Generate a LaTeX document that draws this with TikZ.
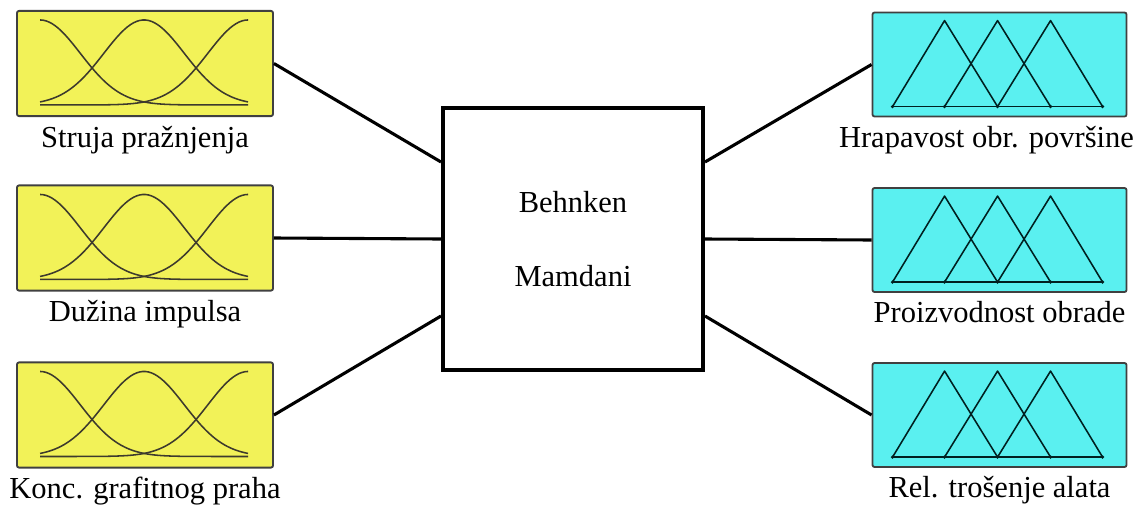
\documentclass[tikz,border=0pt]{standalone}
\usepackage{fontspec}
\setmainfont{Liberation Serif}
\newfontfamily\labelfont{Liberation Serif}
\usetikzlibrary{positioning, calc}
\definecolor{inyellow}{RGB}{242,242,88}
\definecolor{outcyan}{RGB}{90,240,240}
\tikzset{
    box_in/.style={
        rectangle, rounded corners=1.5pt, draw=black!75, line width=1.3pt,
        fill=inyellow, minimum width=6.4cm, minimum height=2.63cm, inner sep=0pt
    },
    box_out/.style={
        rectangle, rounded corners=1.5pt, draw=black!75, line width=1.3pt,
        fill=outcyan, minimum width=6.35cm, minimum height=2.6cm, inner sep=0pt
    },
    box_fis/.style={
        rectangle, draw=black, line width=2.8pt, fill=white,
        minimum width=6.5cm, minimum height=6.55cm,
        align=center, font=\labelfont\fontsize{21.7}{52}\selectfont
    },
    mf_gauss/.style={draw=black!75!olive, line width=1.1pt},
    mf_tri/.style={draw=black!75!teal, line width=1.1pt, line join=round},
    link/.style={draw=black, line width=2.2pt},
    lbl/.style={font=\labelfont\fontsize{21.7}{26}\selectfont, inner sep=0pt, anchor=base},
    declare function={gaussmf(\x,\c)=95-85*exp(-((\x-\c)/57)*((\x-\c)/57));}
}

\begin{document}
\begin{tikzpicture}[x=0.025cm, y=-0.025cm]
    \useasboundingbox (0,0) rectangle (1143,507);

    \node[box_fis] (fis) at (573,239) {Behnken\\Mamdani};
    \coordinate (fis_in1) at ($(fis.west)+(0,-77)$);
    \coordinate (fis_in3) at ($(fis.west)+(0,77)$);
    \coordinate (fis_out1) at ($(fis.east)+(0,-77)$);
    \coordinate (fis_out3) at ($(fis.east)+(0,77)$);

    \foreach \i/\yy/\txt in {1/63.5/Struja pražnjenja, 2/238/Dužina impulsa, 3/415/Konc. grafitnog praha}{
        \node[box_in] (b\i) at (145,\yy) {};
        \begin{scope}[shift={(b\i.north west)}]
            \foreach \c in {24,128,232}
                \draw[mf_gauss] plot[domain=24:232, samples=70, smooth] (\x, {gaussmf(\x,\c)});
        \end{scope}
        \node[lbl] (lb\i) at ($(b\i.south)+(0,30)$) {\txt};
    }

    \foreach \i/\yy/\dx/\txt in {1/64.5/-13/Hrapavost obr. površine, 2/240/0/Proizvodnost obrade, 3/415/0/Rel. trošenje alata}{
        \node[box_out] (o\i) at (999.5,\yy) {};
        \begin{scope}[shift={(o\i.north west)}]
            \draw[mf_tri] (21,95) -- (73,9) -- (126,95);
            \draw[mf_tri] (73,95) -- (126,9) -- (179,95);
            \draw[mf_tri] (126,95) -- (179,9) -- (231,95);
            \draw[mf_tri] (21,95) -- (231,95);
            \foreach \p in {21,73,126,179,231}
                \fill[black!75!teal] (\p,95) circle[radius=1.3pt];
        \end{scope}
        \node[lbl] (lo\i) at ($(o\i.south)+(\dx,30)$) {\txt};
    }

    \draw[link] (b1.east) -- (fis_in1);
    \draw[link] (b2.east) -- (fis.west);
    \draw[link] (b3.east) -- (fis_in3);
    \draw[link] (fis_out1) -- (o1.west);
    \draw[link] (fis.east) -- (o2.west);
    \draw[link] (fis_out3) -- (o3.west);
\end{tikzpicture}
\end{document}
